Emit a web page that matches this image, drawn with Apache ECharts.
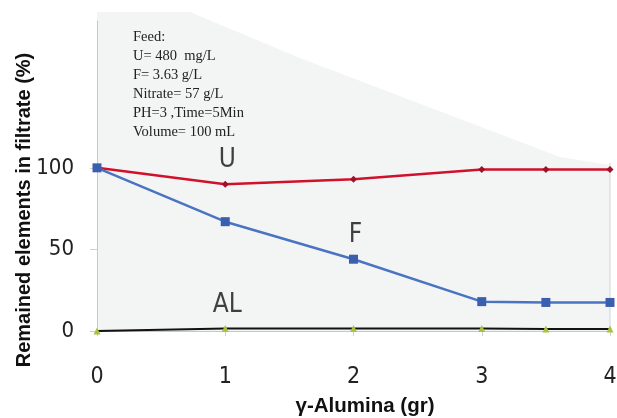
<!DOCTYPE html>
<html><head><meta charset="utf-8">
<script src="https://cdn.jsdelivr.net/npm/echarts@6/dist/echarts.min.js"></script>
<style>html,body{margin:0;padding:0;background:#fff}#c{width:617px;height:418px}</style>
</head><body><div id="c"></div>
<script>
const xValues = [0, 1, 2, 3, 3.5, 4];
const uValues = [100, 90, 93, 99, 99, 99];
const fValues = [100, 67, 44, 18, 17.5, 17.5];
const alValues = [0, 1.5, 1.5, 1.5, 1.2, 1.2];
const xTicks = [0, 1, 2, 3, 4];
const yTicks = [0, 50, 100];
const xTitle = 'γ-Alumina (gr)';
const yTitle = 'Remained elements in filtrate (%)';
const feedLines = ['Feed:', 'U= 480  mg/L', 'F= 3.63 g/L', 'Nitrate= 57 g/L', 'PH=3 ,Time=5Min', 'Volume= 100 mL'];
const seriesLabels = [{name:'U', x:1, y:104.7}, {name:'F', x:2, y:58.7}, {name:'AL', x:1, y:15.7}];

const NARROW = '"Liberation Sans Narrow", "Arial Narrow", "DejaVu Sans Condensed", sans-serif';
const pairs = v => xValues.map((x, i) => [x, v[i]]);
const chart = echarts.init(document.getElementById('c'), null, {renderer:'canvas'});
chart.setOption({
  backgroundColor:'#fff',
  animation:false,
  grid: {left:97, right:7, top:21, bottom:87, containLabel:false, outerBoundsMode:'none'},
  graphic: [
    {type:'polygon', z:-10, silent:true, shape:{points:[[97,12],[190,12],[300,58],[560,157],[610,165],[610,331],[97,331]]}, style:{fill:'#f3f5f5'}},
    {type:'line', silent:true, shape:{x1:610, y1:163, x2:610, y2:331}, style:{stroke:'#d0d4d6', lineWidth:1}},
    {type:'text', left:133, top:28, style:{text: feedLines.join('\n'), font:'14.5px "Liberation Serif"', lineHeight:19, fill:'#222'}},
    {type:'text', x:365, y:406, silent:true, style:{text:xTitle, align:'center', verticalAlign:'middle', font:'bold 20.5px "Liberation Sans"', fill:'#111'}},
    {type:'text', x:24, y:210, rotation:Math.PI/2, silent:true, style:{text:yTitle, align:'center', verticalAlign:'middle', font:'bold 20px "Liberation Sans"', fill:'#111'}}
  ],
  xAxis: {
    type:'value', min:0, max:4, interval:1,
    axisLine:{show:true, lineStyle:{color:'#c8c8c8'}},
    axisTick:{show:true, length:5, lineStyle:{color:'#d0d0d0'}},
    axisLabel:{customValues: xTicks, margin:35, fontFamily:NARROW, fontSize:23, color:'#222'},
    splitLine:{show:false}
  },
  yAxis: {
    type:'value', min:0, max:190,
    axisLine:{show:true, lineStyle:{color:'#c8c8c8'}},
    axisTick:{show:true, customValues: yTicks, length:7, lineStyle:{color:'#d0d0d0'}},
    axisLabel:{customValues: yTicks, margin:23, fontFamily:NARROW, fontSize:22, color:'#222'},
    splitLine:{show:false}
  },
  series: [
    {type:'line', name:'U', data:pairs(uValues), symbol:'diamond', symbolSize:7,
     itemStyle:{color:'#a0102a'}, lineStyle:{color:'#d0112b', width:2.5}, z:3},
    {type:'line', name:'F', data:pairs(fValues), symbol:'rect', symbolSize:9,
     itemStyle:{color:'#3a5fae'}, lineStyle:{color:'#4a74c2', width:2.5}, z:4},
    {type:'line', name:'AL', data:pairs(alValues), symbol:'triangle', symbolSize:7,
     itemStyle:{color:'#a8c23c'}, lineStyle:{color:'#111', width:2}, z:2},
    {type:'scatter', data: seriesLabels.map(l => ({value:[l.x, l.y], name:l.name})), symbolSize:0,
     label:{show:true, position:'inside', offset:[2,0], formatter:p=>p.name, fontFamily:NARROW, fontSize:26, color:'#111'}, z:5}
  ]
});
</script></body></html>
